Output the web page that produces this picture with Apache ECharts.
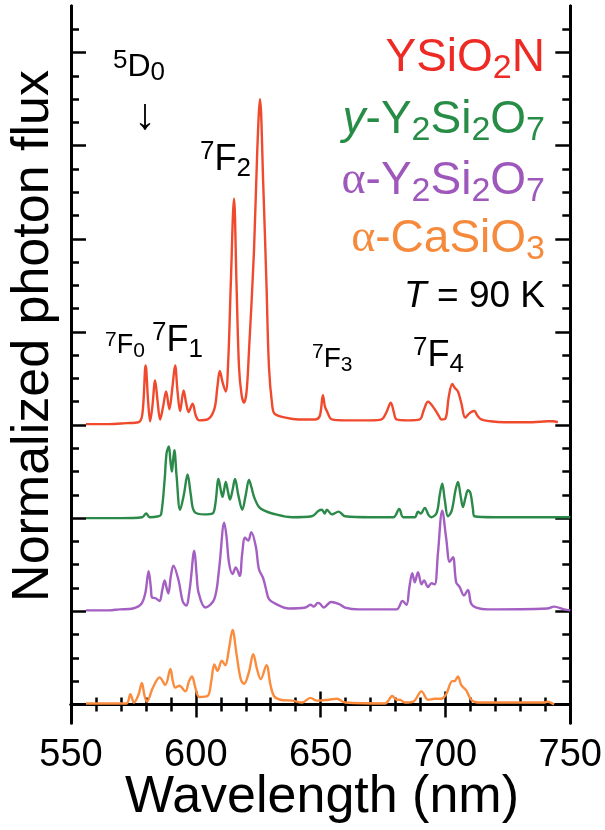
<!DOCTYPE html>
<html><head><meta charset="utf-8">
<script src="https://cdn.jsdelivr.net/npm/echarts@6/dist/echarts.min.js"></script>
<style>html,body{margin:0;padding:0;background:#fff}#c{width:605px;height:830px}</style>
</head><body><div id="c"></div>
<script>
// ---- data ----
const xTickLabels = [550, 600, 650, 700, 750];
const yMajorTicks = [0, 1, 2, 3, 4, 5, 6, 7];
const yMinorTicks = [0.25,0.5,0.75,1.25,1.5,1.75,2.25,2.5,2.75,3.25,3.5,3.75,4.25,4.5,4.75,5.25,5.5,5.75,6.25,6.5,6.75,7.25];
const seriesNames = ['YSiO2N', 'y-Y2Si2O7', 'α-Y2Si2O7', 'α-CaSiO3'];
const offsets = [3, 2, 1, 0];

const ysio2n = [[556,0.01],[565,0.01],[572,0.02],[577,0.03],[578.6,0.12],[579.9,0.64],[580.9,0.25],[581.7,0.04],[582.6,0.2],[583.7,0.48],[584.7,0.25],[585.7,0.06],[586.9,0.2],[588.1,0.36],[589.4,0.17],[590.6,0.4],[591.7,0.64],[592.7,0.35],[593.7,0.15],[595.1,0.37],[596.1,0.24],[597.1,0.14],[598.7,0.23],[600,0.1],[601.4,0.05],[604.7,0.06],[607.4,0.17],[608.6,0.4],[609.6,0.58],[610.8,0.45],[612.0,0.36],[613,0.7],[614.0,1.51],[615.3,2.43],[616.3,1.51],[617.3,0.62],[618.3,0.33],[619.3,0.24],[620.3,0.35],[621.3,0.80],[623.3,1.87],[624.6,2.94],[625.7,3.50],[627.0,2.59],[628.3,1.51],[629.3,0.62],[630.6,0.21],[631.6,0.12],[635.9,0.08],[641.2,0.06],[648,0.06],[649.7,0.1],[650.9,0.32],[651.7,0.2],[652.5,0.15],[654.5,0.06],[660,0.05],[670,0.05],[674.4,0.06],[676.4,0.14],[678.1,0.24],[679.3,0.14],[680.4,0.06],[685,0.05],[689.7,0.06],[691.3,0.16],[693.0,0.25],[695.7,0.17],[697.5,0.09],[698.3,0.06],[700,0.07],[701.3,0.3],[702.7,0.44],[703.7,0.4],[705.0,0.36],[706.3,0.24],[707.9,0.08],[709,0.11],[710.3,0.14],[711.6,0.15],[712.8,0.1],[714.3,0.06],[718,0.04],[723.6,0.03],[735,0.03],[740.8,0.04],[743,0.04],[745,0.03]];

const yY2Si2O7 = [[556,0],[570,0],[578.5,0.01],[580.1,0.05],[581.5,0.01],[585,0.02],[586.1,0.04],[587.5,0.41],[588.3,0.7],[589.2,0.77],[589.8,0.62],[590.4,0.5],[590.9,0.62],[591.4,0.73],[592.3,0.45],[593.7,0.09],[595.2,0.25],[596.7,0.47],[598,0.25],[599.4,0.07],[603.4,0.04],[606.7,0.05],[607.8,0.15],[609.1,0.42],[610.0,0.3],[610.7,0.23],[611.3,0.3],[612.0,0.39],[612.9,0.28],[613.7,0.2],[614.7,0.3],[615.7,0.42],[617.0,0.25],[618.6,0.09],[620,0.25],[621.3,0.41],[622.3,0.33],[623.3,0.23],[625.3,0.12],[627.5,0.08],[630.6,0.05],[638.6,0.01],[646.5,0.02],[649.2,0.08],[650.5,0.09],[651.6,0.05],[652.5,0.09],[654.5,0.04],[657.2,0.07],[659.8,0.02],[670,0.01],[679.1,0.01],[681.5,0.10],[683.1,0.01],[687.7,0.01],[689,0.07],[690.1,0.05],[691.7,0.11],[693.3,0.03],[694.4,0.01],[696.5,0.06],[697.7,0.25],[698.7,0.37],[699.7,0.2],[701.0,0.02],[702.5,0.08],[704,0.3],[705.0,0.39],[706,0.25],[707.0,0.12],[708,0.22],[709.0,0.30],[710.0,0.27],[711.0,0.1],[711.6,0.02],[720,0.01],[735,0.01],[750,0.01]];

const aY2Si2O7 = [[556,0.01],[565,0.01],[569.5,0.02],[574.8,0.03],[578.2,0.08],[579.8,0.2],[581.1,0.43],[582.0,0.25],[582.4,0.15],[583.9,0.14],[585.5,0.11],[586.5,0.22],[587.5,0.33],[588.3,0.25],[589.0,0.19],[590.0,0.38],[591.0,0.49],[593.1,0.33],[594.7,0.11],[596.1,0.06],[597.6,0.25],[599.4,0.65],[600.3,0.4],[601.1,0.20],[603.8,0.04],[607.4,0.13],[609.3,0.45],[611.4,0.95],[612.3,0.8],[613.3,0.52],[614.7,0.40],[616.0,0.47],[617.6,0.38],[618.5,0.6],[619.7,0.79],[621.0,0.76],[622.2,0.85],[624.0,0.70],[625.3,0.45],[626.9,0.36],[628,0.25],[629.3,0.13],[632.0,0.08],[637.3,0.03],[643.9,0.04],[645.9,0.07],[647.2,0.05],[648.9,0.09],[649.8,0.08],[651.2,0.04],[654.2,0.10],[657.2,0.08],[659.8,0.04],[665.1,0.02],[680.4,0.02],[682.8,0.11],[684.4,0.07],[685.5,0.25],[686.7,0.41],[687.7,0.31],[689.0,0.42],[690.4,0.29],[691.4,0.33],[693.0,0.26],[694.4,0.30],[695.7,0.29],[697.0,0.63],[698.7,1.08],[700.3,0.78],[701.7,0.53],[703.0,0.58],[704.3,0.31],[705.7,0.26],[707.4,0.17],[709.0,0.23],[710.3,0.08],[712.3,0.04],[716.9,0.02],[740.8,0.03],[743.5,0.05],[747.5,0.02],[750,0.01]];

const aCaSiO3 = [[556,0.01],[565,0.01],[572.2,0.01],[573.8,0.11],[575.2,0.02],[577,0.1],[578.4,0.23],[579.4,0.1],[580.4,0.03],[582.8,0.18],[585.5,0.29],[587.8,0.21],[589.8,0.38],[590.8,0.25],[591.8,0.18],[593.4,0.20],[595.8,0.14],[597.3,0.25],[598.5,0.30],[599.8,0.18],[601.4,0.08],[604.7,0.09],[606.2,0.25],[607.4,0.43],[608.7,0.36],[610.4,0.47],[611.8,0.42],[613.3,0.6],[614.7,0.80],[616.3,0.54],[618.0,0.27],[619.3,0.22],[621.3,0.35],[623.0,0.54],[624.5,0.38],[626.0,0.27],[628.3,0.42],[629.9,0.21],[631.3,0.09],[633.9,0.05],[638.6,0.04],[642.6,0.02],[645.9,0.07],[648.5,0.04],[653.2,0.05],[656.5,0.06],[659.8,0.02],[675.8,0.01],[678.7,0.09],[680.4,0.05],[681.7,0.05],[683.7,0.02],[687.1,0.03],[690.4,0.14],[693.0,0.05],[695.7,0.06],[698.3,0.06],[700.3,0.11],[702.7,0.25],[703.6,0.25],[705.0,0.30],[706.3,0.21],[708.3,0.15],[710.3,0.05],[713.0,0.02],[739.5,0.02],[740.8,0.03],[743.5,0.0]];

const spectra = [ysio2n, yY2Si2O7, aY2Si2O7, aCaSiO3];
const lineColors = ['#f04a2e', '#2b8a4a', '#a35fc2', '#fb8c3e'];
const textColors = ['#ee2a24', '#268c46', '#9e57bb', '#f58a3c'];

// ---- chart ----
const FF = 'Liberation Sans';
const chart = echarts.init(document.getElementById('c'), null, {renderer: 'canvas'});

function rich(F, f) {
  const L = Math.round(F * 1.2);
  return {
    m: {fontSize: F, fontFamily: FF, lineHeight: L},
    p: {fontSize: f, fontFamily: FF, lineHeight: L - 0.732 * (F - f), verticalAlign: 'top'},
    b: {fontSize: f, fontFamily: FF, lineHeight: L - 0.70 * (F - f), verticalAlign: 'bottom'},
    g: {fontSize: F, fontFamily: 'Liberation Serif', lineHeight: L},
    i: {fontSize: F, fontFamily: FF, fontStyle: 'italic', lineHeight: L}
  };
}
function txt(x, y, text, F, f, color, align) {
  return {type: 'text', x: x, y: y, z: 100,
    style: {text: text, rich: rich(F, f), fill: color, align: align || 'left', verticalAlign: 'middle', fontFamily: FF, fontSize: F}};
}

const xAxisCommon = {
  type: 'value', min: 550, max: 750, interval: 50,
  axisLine: {show: true, lineStyle: {color: '#000', width: 3}},
  axisTick: {show: true, inside: true, length: 13, lineStyle: {color: '#000', width: 2.5}},
  minorTick: {show: true, splitNumber: 5, length: 7, lineStyle: {color: '#000', width: 2.5}},
  splitLine: {show: false}, minorSplitLine: {show: false}
};
function yAx(pos, ticks, len) {
  return {
    type: 'value', min: -0.2, max: 7.5, position: pos, offset: 0,
    axisLine: {show: true, lineStyle: {color: '#000', width: 3}},
    axisTick: {show: true, inside: true, length: len, customValues: ticks, lineStyle: {color: '#000', width: 2.5}},
    axisLabel: {show: false}, splitLine: {show: false}
  };
}

const option = {
  animation: false,
  backgroundColor: '#fff',
  grid: {left: 71, top: 6, width: 501, height: 717, containLabel: false},
  xAxis: [
    Object.assign({}, xAxisCommon, {position: 'bottom',
      axisLabel: {show: true, margin: 14, fontSize: 38, fontFamily: FF, color: '#000',
        formatter: v => (xTickLabels.indexOf(v) >= 0 ? String(v) : '')}}),
    Object.assign({}, xAxisCommon, {position: 'top', axisLabel: {show: false}})
  ],
  yAxis: [yAx('left', yMajorTicks, 15), yAx('left', yMinorTicks, 8), yAx('right', yMajorTicks, 15), yAx('right', yMinorTicks, 8)],
  series: spectra.map((s, i) => ({
    name: seriesNames[i], type: 'line', xAxisIndex: 0, yAxisIndex: 0,
    data: s.map(p => [p[0], p[1] + offsets[i]]),
    showSymbol: false, symbol: 'none', smooth: 0.35,
    lineStyle: {color: lineColors[i], width: 2.4}, z: 10 - i
  })),
  graphic: [
    txt(113, 67, '{p|5}{m|D}{b|0}', 32, 26, '#000'),
    {type: 'text', x: 145, y: 117, z: 100, style: {text: '↓', fill: '#000', align: 'center', verticalAlign: 'middle', fontFamily: FF, fontSize: 44}},
    txt(200, 160, '{p|7}{m|F}{b|2}', 36, 26, '#000'),
    txt(105, 346, '{p|7}{m|F}{b|0}', 27, 21, '#000'),
    txt(152, 341, '{p|7}{m|F}{b|1}', 36, 26, '#000'),
    txt(312, 359, '{p|7}{m|F}{b|3}', 28, 21, '#000'),
    txt(413, 356, '{p|7}{m|F}{b|4}', 36, 26, '#000'),
    txt(545, 58, '{m|YSiO}{b|2}{m|N}', 46, 34, textColors[0], 'right'),
    txt(545, 120, '{i|y}{m|-Y}{b|2}{m|Si}{b|2}{m|O}{b|7}', 46, 34, textColors[1], 'right'),
    txt(545, 181, '{g|α}{m|-Y}{b|2}{m|Si}{b|2}{m|O}{b|7}', 46, 34, textColors[2], 'right'),
    txt(545, 239, '{g|α}{m|-CaSiO}{b|3}', 46, 34, textColors[3], 'right'),
    txt(545, 297, '{i|T}{m| = 90 K}', 37, 25, '#000', 'right'),
    {type: 'text', x: 34, y: 336, rotation: Math.PI / 2, z: 100,
      style: {text: 'Normalized photon flux', fill: '#000', align: 'center', verticalAlign: 'middle', fontFamily: FF, fontSize: 52}},
    {type: 'text', x: 322, y: 798, z: 100,
      style: {text: 'Wavelength (nm)', fill: '#000', align: 'center', verticalAlign: 'middle', fontFamily: FF, fontSize: 52}}
  ]
};
chart.setOption(option);
</script>
</body></html>
